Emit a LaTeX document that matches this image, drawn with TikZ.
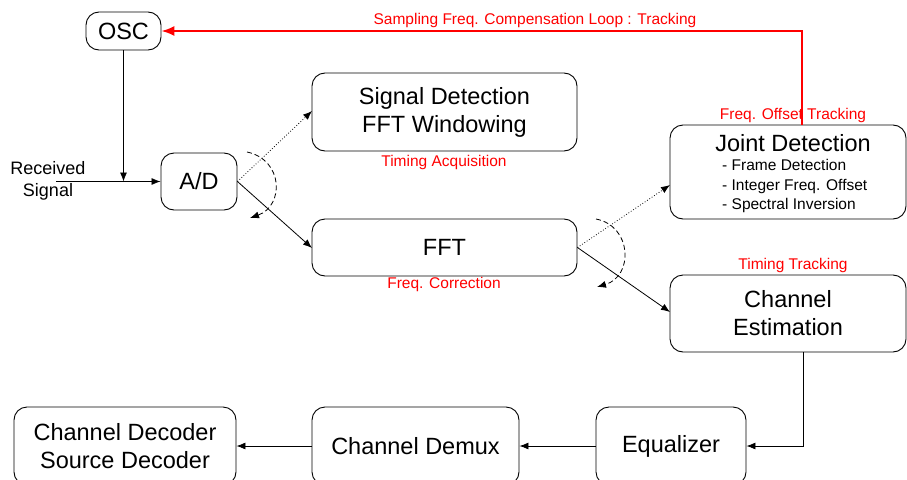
\documentclass[tikz,border=0pt]{standalone}
\usepackage{fontspec}
\setmainfont{Liberation Sans}
\usetikzlibrary{arrows.meta}
\begin{document}
\begin{tikzpicture}[x=1pt,y=-1pt,
  blk/.style={draw,rounded corners=13pt,inner sep=0pt,line width=0.9pt,align=center,font=\fontsize{23.5}{28}\selectfont},
  lbl/.style={text=red,inner sep=0pt,font=\fontsize{15.5}{18}\selectfont},
  conn/.style={line width=0.8pt,-{Latex[length=9pt,width=7pt]}},
  dotconn/.style={line width=0.8pt,dotted,-{Latex[length=9pt,width=7pt]}},
  arcconn/.style={line width=0.8pt,dash pattern=on 5pt off 3pt,-{Latex[length=9pt,width=7pt]}},
  redconn/.style={red,line width=1.8pt,-{Latex[length=13pt,width=10pt]}}]
\useasboundingbox (0,0) rectangle (907,479);
\clip (0,0) rectangle (907,479);
% blocks
\node[blk,minimum width=75pt,minimum height=38pt] (osc) at (123.5,31) {OSC};
\node[blk,minimum width=76pt,minimum height=57pt] (ad) at (199,181.5) {A/D};
\node[blk,minimum width=265pt,minimum height=78pt] (sd) at (444.5,112) {Signal Detection\\FFT Windowing};
\node[blk,minimum width=265pt,minimum height=57pt] (fft) at (444.5,247.5) {FFT};
\node[blk,minimum width=236pt,minimum height=94pt] (jd) at (788,172) {};
\node[inner sep=0pt,font=\fontsize{23.5}{28}\selectfont] (jdt) at (793,143) {Joint Detection};
\node[inner sep=0pt,anchor=west,align=left,font=\fontsize{15.5}{19.8}\selectfont] (jdl) at (722,186) {- Frame Detection\\- Integer Freq. Offset\\- Spectral Inversion};
\node[blk,minimum width=236pt,minimum height=77pt] (ce) at (788,313.5) {Channel\\Estimation};
\node[blk,minimum width=150pt,minimum height=78pt] (eq) at (671,446) {Equalizer};
\node[blk,minimum width=207pt,minimum height=78pt] (dm) at (415.5,446) {Channel Demux};
\node[blk,minimum width=222pt,minimum height=78pt] (dec) at (125,446) {Channel Decoder\\Source Decoder};
% labels
\node[inner sep=0pt,align=center,font=\fontsize{18}{22}\selectfont] (rx) at (48,181) {Received\\Signal};
\node[lbl] (lta) at (444,162) {Timing Acquisition};
\node[lbl] (lfc) at (444,284) {Freq. Correction};
\node[lbl] (lfo) at (793,115) {Freq. Offset Tracking};
\node[lbl] (ltt) at (793,265) {Timing Tracking};
\node[lbl] (lsf) at (535,20) {Sampling Freq. Compensation Loop : Tracking};
% connectors
\coordinate (rxs) at (56,181.5);
\coordinate (j) at (123.5,181.5);
\draw[conn] (rxs) -- (ad.west);
\draw[conn] (osc.south) -- (j);
\draw[dotconn] (ad.east) -- (312,111);
\draw[conn] (ad.east) -- (312,248);
\draw[arcconn] (247,152) .. controls (284,160) and (284,206) .. (250,218);
\draw[dotconn] (fft.east) -- (670,185);
\draw[conn] (fft.east) -- (670,312);
\draw[arcconn] (596,219) .. controls (632,226) and (634,276) .. (597,287);
\draw[redconn] (jd.north -| 802,0) |- (osc.east);
\draw[conn] (ce.south -| 803,0) |- (eq.east);
\draw[conn] (eq.west) -- (dm.east);
\draw[conn] (dm.west) -- (dec.east);
\end{tikzpicture}
\end{document}
